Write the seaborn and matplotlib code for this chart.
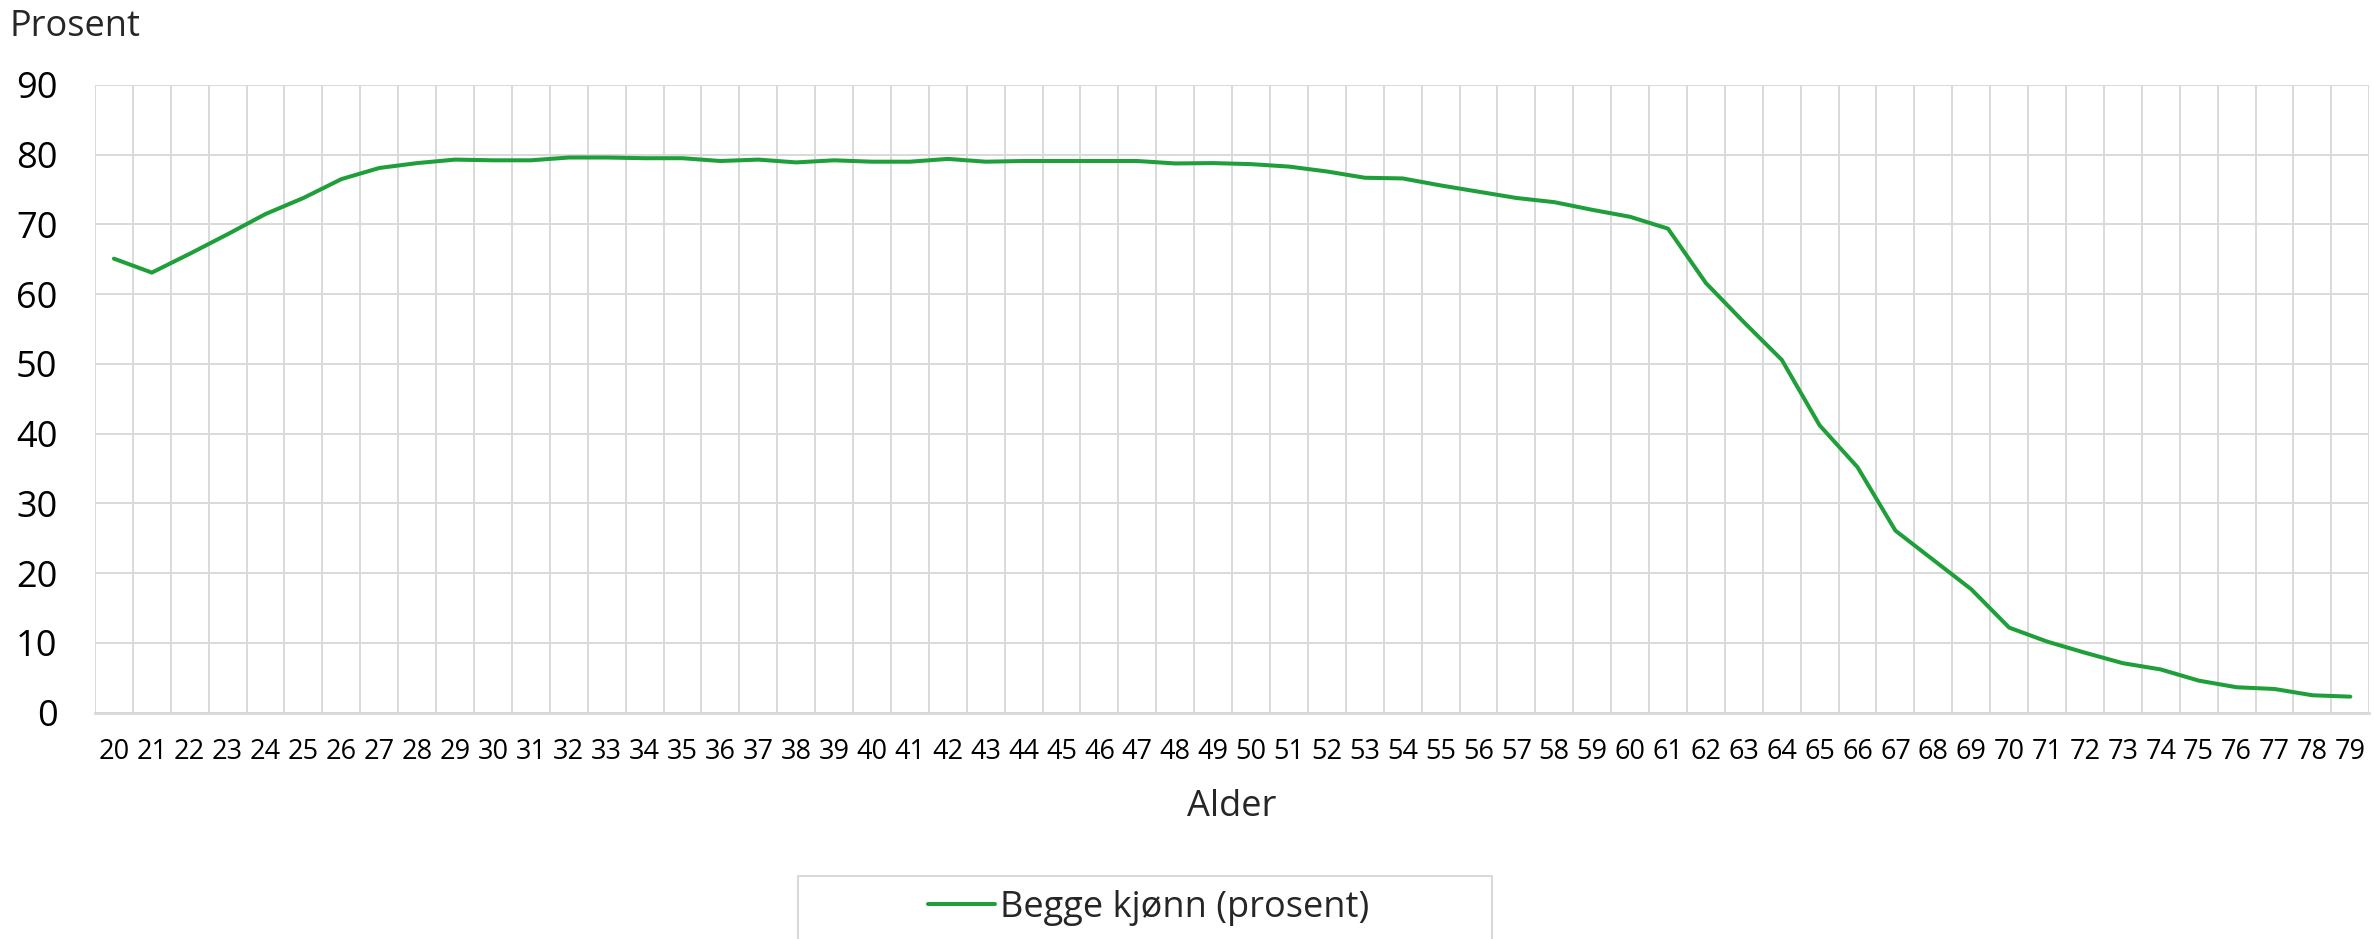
import numpy as np
import pandas as pd
import seaborn as sns
import matplotlib
matplotlib.use("Agg")
import matplotlib.pyplot as plt
from matplotlib.patches import Rectangle

## data lest av fra figuren
alder = list(range(20, 80))
prosent = [65.1, 63.1, 65.8, 68.6, 71.5, 73.8, 76.5, 78.1, 78.8, 79.3,
           79.2, 79.2, 79.6, 79.6, 79.5, 79.5, 79.1, 79.3, 78.9, 79.2,
           79.0, 79.0, 79.4, 79.0, 79.1, 79.1, 79.1, 79.1, 78.75, 78.8,
           78.65, 78.3, 77.6, 76.7, 76.6, 75.6, 74.7, 73.8, 73.2, 72.1,
           71.1, 69.4, 61.6, 56.0, 50.6, 41.2, 35.2, 26.1, 21.9, 17.7,
           12.2, 10.2, 8.6, 7.1, 6.2, 4.6, 3.65, 3.4, 2.5, 2.3]
y_ticks = [0, 10, 20, 30, 40, 50, 60, 70, 80, 90]
serie_navn = "Begge kjønn (prosent)"

## oppsett
sns.set_theme(style="white")
plt.rcParams['font.family'] = ['Open Sans', 'DejaVu Sans']
GRID = "#d9d9d9"
GREEN = "#1f9f3a"

df = pd.DataFrame({"Alder": alder, "Prosent": prosent})

fig = plt.figure(figsize=(23.74, 9.39), dpi=100)
ax = fig.add_axes([0.040, 0.241, 0.958, 0.6685])

sns.lineplot(data=df, x="Alder", y="Prosent", ax=ax, color=GREEN,
             linewidth=2.9, label=serie_navn)
handles, labels = ax.get_legend_handles_labels()
ax.get_legend().remove()

ax.set_xlim(19.5, 79.5)
ax.set_ylim(0, 90)
ax.set_xticks(alder)
ax.set_xticks(np.arange(19.5, 80, 1), minor=True)
ax.set_yticks(y_ticks)
ax.tick_params(axis="x", which="both", length=0, labelsize=19.5, pad=18, colors="black")
ax.tick_params(axis="y", which="both", length=0, labelsize=26, pad=27, colors="black")

ax.grid(False)
ax.grid(True, axis="y", which="major", color=GRID, linewidth=1.4)
ax.grid(True, axis="x", which="minor", color=GRID, linewidth=1.4)
for s in ax.spines.values():
    s.set_visible(False)
ax.spines["bottom"].set_visible(True)
ax.spines["bottom"].set_color(GRID)
ax.spines["bottom"].set_linewidth(2)

ax.set_xlabel("")
ax.set_ylabel("")
fig.text(0.004, 0.971, "Prosent", fontsize=26, ha="left", va="center")
fig.text(0.519, 0.1406, "Alder", fontsize=26, ha="center", va="center")

## legend med egen ramme
fig.add_artist(Rectangle((0.336, -0.02), 0.2925, 0.087, transform=fig.transFigure,
                         facecolor="none", edgecolor=GRID, linewidth=1.5))
fig.legend(handles, labels, loc="center", bbox_to_anchor=(0.4838, 0.033),
           frameon=False, fontsize=26, handlelength=1.85, handletextpad=0.15)

fig.savefig("out.png", dpi=100)
